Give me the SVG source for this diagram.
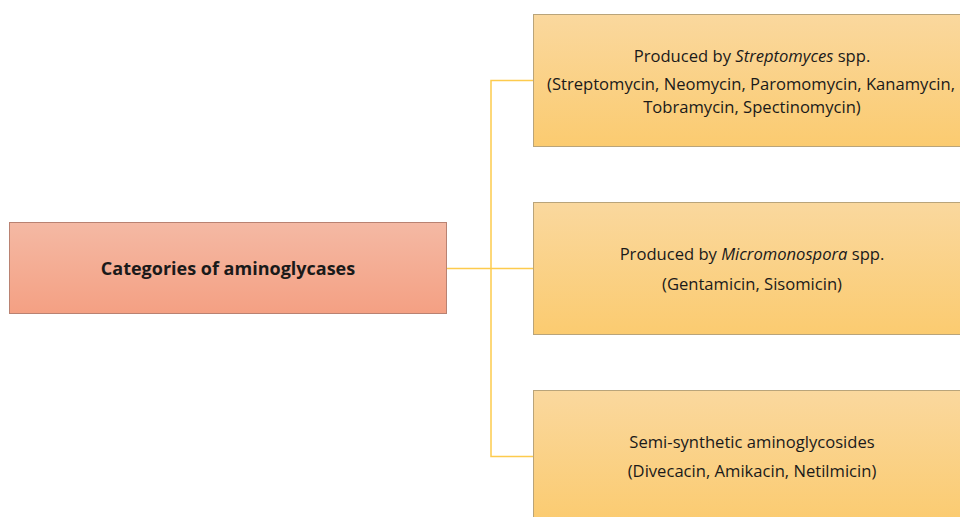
<svg xmlns="http://www.w3.org/2000/svg" width="960" height="517" viewBox="0 0 960 517">
<defs>
<linearGradient id="gRed" x1="0" y1="0" x2="0" y2="1">
<stop offset="0" stop-color="#F4B9A4"/>
<stop offset="1" stop-color="#F4A083"/>
</linearGradient>
<linearGradient id="gOr" x1="0" y1="0" x2="0" y2="1">
<stop offset="0" stop-color="#FAD89E"/>
<stop offset="1" stop-color="#FBCB70"/>
</linearGradient>
<style>
.t{font-family:"Open Sans","Liberation Sans",sans-serif;font-size:16.6px;fill:#1a1a1a;text-anchor:middle;dominant-baseline:central}
.b{font-weight:bold;font-size:18px}
.red{fill:url(#gRed);stroke:#B98272;stroke-width:1}
.or{fill:url(#gOr);stroke:#B9A47A;stroke-width:1}
.c{fill:none;stroke:#FDCB4E;stroke-width:1.5}
</style>
</defs>
<rect width="960" height="517" fill="#fff"/>
<g id="connectors">
<line class="c" x1="447" y1="268.5" x2="533" y2="268.5"/>
<polyline class="c" points="533,80.5 491,80.5 491,456.5 533,456.5"/>
</g>
<g id="root">
<rect class="red" x="9.5" y="222.5" width="437" height="91"/>
<text class="t b" x="228" y="268">Categories of aminoglycases</text>
</g>
<g id="streptomyces">
<rect class="or" x="533.5" y="14.5" width="438" height="132"/>
<text class="t" x="752" y="55">Produced by <tspan font-style="italic">Streptomyces</tspan> spp.</text>
<text class="t" x="751" y="83">(Streptomycin, Neomycin, Paromomycin, Kanamycin,</text>
<text class="t" x="752" y="106">Tobramycin, Spectinomycin)</text>
</g>
<g id="micromonospora">
<rect class="or" x="533.5" y="202.5" width="438" height="132"/>
<text class="t" x="752" y="253">Produced by <tspan font-style="italic">Micromonospora</tspan> spp.</text>
<text class="t" x="752" y="283">(Gentamicin, Sisomicin)</text>
</g>
<g id="semisynthetic">
<rect class="or" x="533.5" y="390.5" width="438" height="132"/>
<text class="t" x="752" y="441">Semi-synthetic aminoglycosides</text>
<text class="t" x="752" y="470">(Divecacin, Amikacin, Netilmicin)</text>
</g>
</svg>
